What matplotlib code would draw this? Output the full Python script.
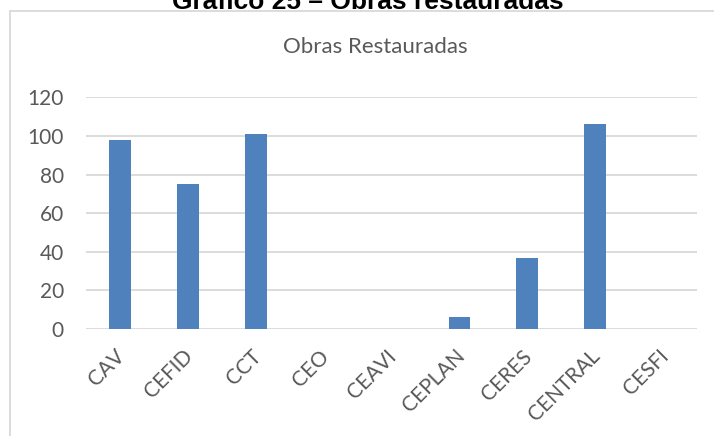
import numpy as np
import matplotlib
matplotlib.use('Agg')
import matplotlib.pyplot as plt
import matplotlib.transforms as mtransforms
from matplotlib.patches import Rectangle

plt.rcParams['font.family'] = ['Lato', 'DejaVu Sans']

# data
list_unidade = ['CAV', 'CEFID', 'CCT', 'CEO', 'CEAVI', 'CEPLAN', 'CERES', 'CENTRAL', 'CESFI']
list_obras = [98, 75, 101, 0, 0, 6, 37, 106, 0]
list_yticks = [0, 20, 40, 60, 80, 100, 120]

fig = plt.figure(figsize=(7.14, 4.36), dpi=100)
ax = fig.add_axes([86/714, 1-329/436, (697-86)/714, (329-97.3)/436])

x = np.arange(len(list_unidade))
ax.bar(x, list_obras, width=0.32, color='#4f81bd', zorder=3)

ax.set_xlim(-0.5, len(list_unidade)-0.5)
ax.set_ylim(0, 120)
ax.set_yticks(list_yticks)
ax.set_xticks(x)
ax.set_xticklabels(list_unidade, rotation=45, ha='right', va='top',
                   rotation_mode='anchor')
ax.tick_params(axis='both', length=0, labelsize=15, colors='#595959')
ax.tick_params(axis='y', pad=16)
ax.tick_params(axis='x', pad=8)
ax.grid(axis='y', color='#d9d9d9', linewidth=1.3, zorder=0)
for s in ax.spines.values():
    s.set_visible(False)

# nudge the rotated labels a bit down-left like Excel does
offset = mtransforms.ScaledTranslation(-5/100, -6/100, fig.dpi_scale_trans)
for lab in ax.get_xticklabels():
    lab.set_transform(lab.get_transform() + offset)

# chart border (Excel chart area)
fig.patches.append(Rectangle((9.5/714, -0.1), 1.0, 1-11.5/436+0.1,
                             transform=fig.transFigure, fill=False,
                             edgecolor='#d9d9d9', linewidth=1.3))

fig.text(375/714, 1-47/436, 'Obras Restauradas', ha='center', va='center',
         fontsize=16, color='#595959')
fig.text(368/714, 1-9/436, 'Gráfico 25 – Obras restauradas', ha='center',
         va='baseline', fontsize=19, fontweight='bold', color='black',
         family=['Liberation Sans', 'DejaVu Sans'])

plt.savefig('out.png', dpi=100)
